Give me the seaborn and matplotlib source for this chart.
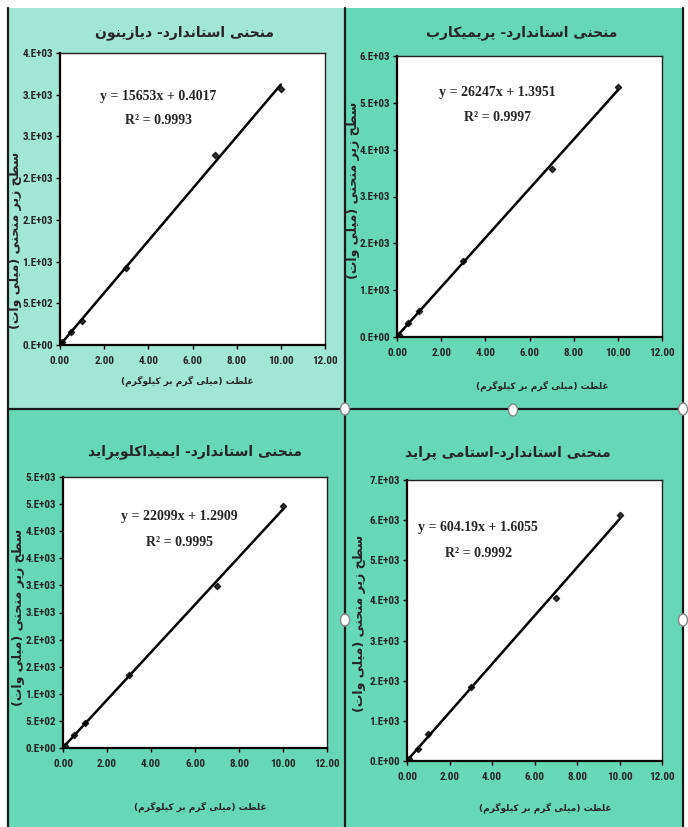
import numpy as np
import pandas as pd
import matplotlib
matplotlib.use('Agg')
import matplotlib.pyplot as plt
from matplotlib.patches import Rectangle, Ellipse
from matplotlib.lines import Line2D
from matplotlib import font_manager
import seaborn as sns

# ---- data ----
conc = [0, 0.1, 0.5, 1, 3, 7, 10]

diazinon = [5, 30, 160, 288, 920, 2272, 3068]
primicarb = [5, 50, 299, 562, 1628, 3583, 5332]
imidacloprid = [5, 40, 245, 460, 1350, 2994, 4460]
acetamiprid = [5, 50, 308, 665, 1846, 4049, 6127]

titles = ['منحنی استاندارد- دیازینون', 'منحنی استاندارد- پریمیکارب',
          'منحنی استاندارد- ایمیداکلوپراید', 'منحنی استاندارد-استامی پراید']
equations = ['y = 15653x + 0.4017', 'y = 26247x + 1.3951',
             'y = 22099x + 1.2909', 'y = 604.19x + 1.6055']
r2_texts = ['R² = 0.9993', 'R² = 0.9997', 'R² = 0.9995', 'R² = 0.9992']
xlabel = 'غلظت (میلی گرم بر کیلوگرم)'
ylabel = 'سطح زیر منحنی (میلی وات)'

x_ticks = [0, 2, 4, 6, 8, 10, 12]
x_ticklabels = ['0.00', '2.00', '4.00', '6.00', '8.00', '10.00', '12.00']

y_ticks_dia = [0, 500, 1000, 1500, 2000, 2500, 3000, 3500]
y_labels_dia = ['0.E+00', '5.E+02', '1.E+03', '2.E+03', '2.E+03', '3.E+03', '3.E+03', '4.E+03']
y_ticks_pri = [0, 1000, 2000, 3000, 4000, 5000, 6000]
y_labels_pri = ['0.E+00', '1.E+03', '2.E+03', '3.E+03', '4.E+03', '5.E+03', '6.E+03']
y_ticks_imi = [0, 500, 1000, 1500, 2000, 2500, 3000, 3500, 4000, 4500, 5000]
y_labels_imi = ['0.E+00', '5.E+02', '1.E+03', '2.E+03', '2.E+03', '3.E+03', '3.E+03',
                '4.E+03', '4.E+03', '5.E+03', '5.E+03']
y_ticks_ace = [0, 1000, 2000, 3000, 4000, 5000, 6000, 7000]
y_labels_ace = ['0.E+00', '1.E+03', '2.E+03', '3.E+03', '4.E+03', '5.E+03', '6.E+03', '7.E+03']


# ---- small persian shaper (matplotlib does no shaping / bidi) ----
FORMS = {
    'ا': ('\uFE8D', '\uFE8E', None, None),
    'ب': ('\uFE8F', '\uFE90', '\uFE91', '\uFE92'),
    'پ': ('\uFB56', '\uFB57', '\uFB58', '\uFB59'),
    'ت': ('\uFE95', '\uFE96', '\uFE97', '\uFE98'),
    'ح': ('\uFEA1', '\uFEA2', '\uFEA3', '\uFEA4'),
    'د': ('\uFEA9', '\uFEAA', None, None),
    'ر': ('\uFEAD', '\uFEAE', None, None),
    'ز': ('\uFEAF', '\uFEB0', None, None),
    'س': ('\uFEB1', '\uFEB2', '\uFEB3', '\uFEB4'),
    'ط': ('\uFEC1', '\uFEC2', '\uFEC3', '\uFEC4'),
    'ظ': ('\uFEC5', '\uFEC6', '\uFEC7', '\uFEC8'),
    'غ': ('\uFECD', '\uFECE', '\uFECF', '\uFED0'),
    'ک': ('\uFB8E', '\uFB8F', '\uFB90', '\uFB91'),
    'گ': ('\uFB92', '\uFB93', '\uFB94', '\uFB95'),
    'ل': ('\uFEDD', '\uFEDE', '\uFEDF', '\uFEE0'),
    'م': ('\uFEE1', '\uFEE2', '\uFEE3', '\uFEE4'),
    'ن': ('\uFEE5', '\uFEE6', '\uFEE7', '\uFEE8'),
    'و': ('\uFEED', '\uFEEE', None, None),
    'ی': ('\uFBFC', '\uFBFD', '\uFBFE', '\uFBFF'),
}


def fa(s):
    out = []
    for i, c in enumerate(s):
        if c not in FORMS:
            out.append(c)
            continue
        prev = s[i - 1] if i > 0 else ''
        nxt = s[i + 1] if i < len(s) - 1 else ''
        p = prev in FORMS and FORMS[prev][2] is not None
        n = FORMS[c][2] is not None and nxt in FORMS
        f = FORMS[c]
        if p and n:
            out.append(f[3])
        elif p:
            out.append(f[1])
        elif n:
            out.append(f[2])
        else:
            out.append(f[0])
    txt = ''.join(out)[::-1]
    return txt.translate(str.maketrans('()', ')('))


sns.set_style("ticks")
plt.rcParams['font.family'] = ['DejaVu Sans']

# narrow font for the tick numbers if there is one
installed = {f.name for f in font_manager.fontManager.ttflist}
narrow = [n for n in ['Liberation Sans Narrow', 'DejaVu Sans Condensed', 'Roboto Condensed']
          if n in installed]
tick_family = narrow[0] if narrow else 'Liberation Sans'
tick_size = 8 if narrow else 6.5

W, H = 688, 827
fig = plt.figure(figsize=(W / 100, H / 100), dpi=100)
fig.patch.set_facecolor('white')

light = '#a2e7d3'
teal = '#66d8b6'


def box(x0, y0, x1, y1):
    return [x0 / W, 1 - y1 / H, (x1 - x0) / W, (y1 - y0) / H]


# panel backgrounds
for (x0, y0, x1, y1), col in [((8, 8, 345, 409), light), ((345, 8, 683, 409), teal),
                               ((8, 409, 345, 827), teal), ((345, 409, 683, 827), teal)]:
    fig.patches.append(Rectangle((x0 / W, 1 - y1 / H), (x1 - x0) / W, (y1 - y0) / H,
                                 transform=fig.transFigure, facecolor=col, edgecolor='none', zorder=-3))

# frame lines
for xs, ys in [((8, 8), (8, 827)), ((683, 683), (8, 827)), ((345, 345), (8, 827)),
               ((8, 683), (409, 409))]:
    fig.lines.append(Line2D([x / W for x in xs], [1 - y / H for y in ys],
                            transform=fig.transFigure, color='#1a1a1a', lw=1.6, zorder=-2))

panels = [
    dict(y=diazinon, yt=y_ticks_dia, yl=y_labels_dia, ymax=3500, pos=(60, 53, 325, 345),
         title=(185, 33), xl=(187, 381), yl_pos=(16, 240), eq=(0.37, 0.85, 0.77)),
    dict(y=primicarb, yt=y_ticks_pri, yl=y_labels_pri, ymax=6000, pos=(397, 56, 662, 337),
         title=(522, 33), xl=(542, 386), yl_pos=(354, 190), eq=(0.38, 0.87, 0.78)),
    dict(y=imidacloprid, yt=y_ticks_imi, yl=y_labels_imi, ymax=5000, pos=(63, 477, 327, 748),
         title=(195, 452), xl=(200, 807), yl_pos=(19, 617), eq=(0.44, 0.855, 0.76)),
    dict(y=acetamiprid, yt=y_ticks_ace, yl=y_labels_ace, ymax=7000, pos=(407, 480, 662, 761),
         title=(508, 453), xl=(545, 808), yl_pos=(360, 623), eq=(0.28, 0.83, 0.74)),
]

tick_font = dict(family=tick_family, weight='bold', size=tick_size)

for i, p in enumerate(panels):
    ax = fig.add_axes(box(*p['pos']))
    ax.set_zorder(2)
    df = pd.DataFrame({'conc': conc, 'area': p['y']})
    sns.regplot(data=df, x='conc', y='area', ax=ax, ci=None, marker='D',
                scatter_kws=dict(s=10, color='black', zorder=3),
                line_kws=dict(color='black', lw=1.8))
    ax.set_facecolor('white')
    ax.set_xlim(0, 12)
    ax.set_ylim(0, p['ymax'])
    ax.set_xticks(x_ticks)
    ax.set_xticklabels(x_ticklabels, fontdict=tick_font)
    ax.set_yticks(p['yt'])
    ax.set_yticklabels(p['yl'], fontdict=tick_font)
    ax.tick_params(direction='out', length=3, width=1, color='black', pad=2)
    ax.tick_params(axis='x', pad=5)
    ax.set_xlabel('')
    ax.set_ylabel('')
    for side in ['left', 'bottom']:
        ax.spines[side].set_linewidth(1.6)
        ax.spines[side].set_color('black')
    for side in ['top', 'right']:
        ax.spines[side].set_visible(True)
        ax.spines[side].set_linewidth(1.0)
        ax.spines[side].set_color('#222222')

    ex, ey, ry = p['eq']
    ax.text(ex, ey, equations[i], transform=ax.transAxes, ha='center', va='center',
            family='Liberation Serif', weight='bold', size=10)
    ax.text(ex, ry, r2_texts[i], transform=ax.transAxes, ha='center', va='center',
            family='Liberation Serif', weight='bold', size=10)

    tx, ty = p['title']
    fig.text(tx / W, 1 - ty / H, fa(titles[i]), ha='center', va='center',
             weight='bold', size=10)
    lx, ly = p['xl']
    fig.text(lx / W, 1 - ly / H, fa(xlabel), ha='center', va='center',
             weight='bold', size=6.5)
    yx, yy = p['yl_pos']
    fig.text(yx / W, 1 - yy / H, fa(ylabel), ha='center', va='center',
             rotation=90, weight='bold', size=9)

# selection handles of the last chart
for hx, hy in [(345, 409), (513, 410), (683, 409), (345, 620), (683, 620)]:
    fig.patches.append(Ellipse((hx / W, 1 - hy / H), 9 / W, 12 / H, transform=fig.transFigure,
                               facecolor='white', edgecolor='#888888', lw=1, zorder=5))

fig.savefig('out.png', dpi=100)
